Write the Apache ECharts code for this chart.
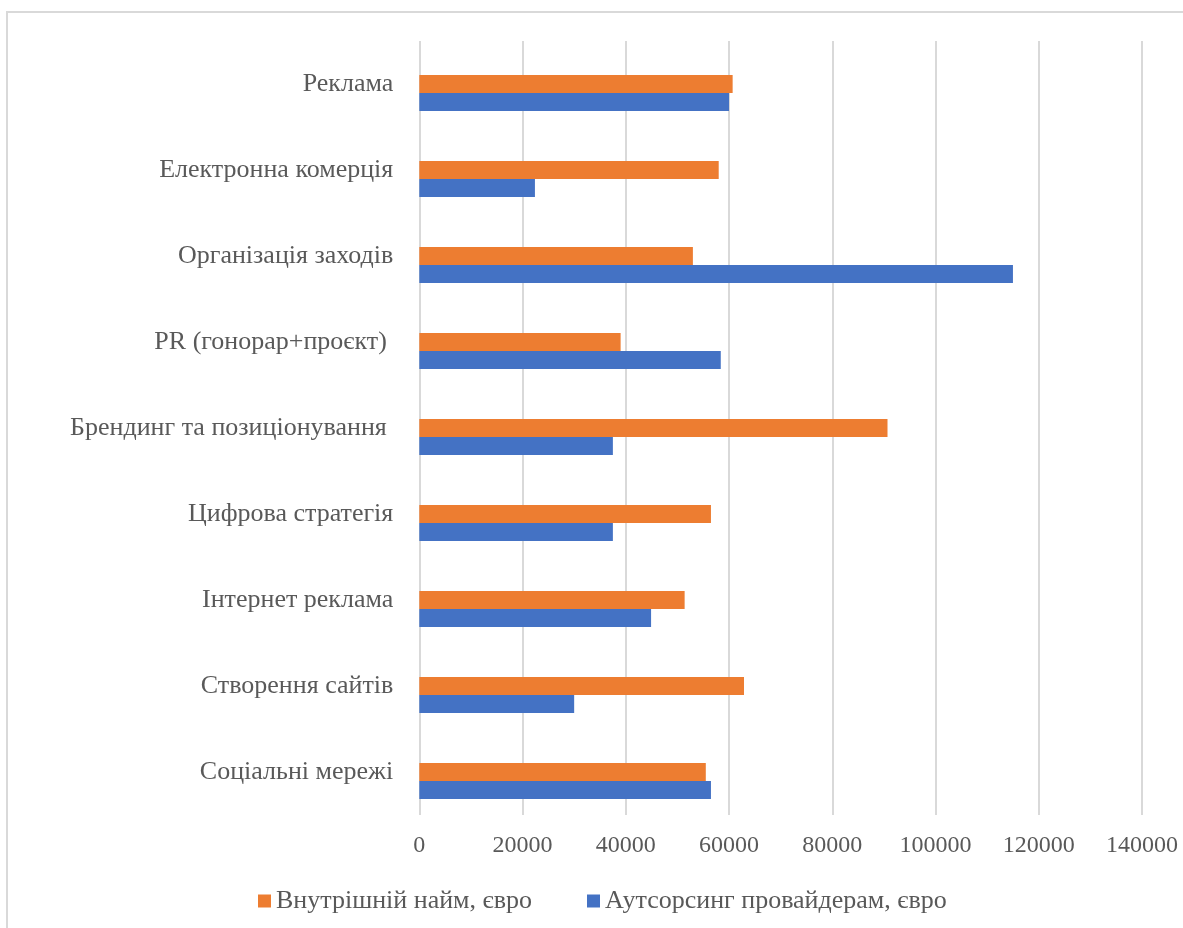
<!DOCTYPE html>
<html>
<head>
<meta charset="utf-8">
<script src="https://cdn.jsdelivr.net/npm/echarts@6/dist/echarts.min.js"></script>
<style>
html,body{margin:0;padding:0;background:#fff;}
#chart{width:1183px;height:928px;}
</style>
</head>
<body>
<div id="chart"></div>
<script>
const categories = [
  'Реклама',
  'Електронна комерція',
  'Організація заходів',
  'PR (гонорар+проєкт) ',
  'Брендинг та позиціонування ',
  'Цифрова стратегія',
  'Інтернет реклама',
  'Створення сайтів',
  'Соціальні мережі'
];
const inHouse = [60700, 58000, 53000, 39000, 90700, 56500, 51400, 62900, 55500];
const outsourcing = [60000, 22400, 115000, 58400, 37500, 37500, 44900, 30000, 56500];
const seriesNames = ['Внутрішній найм, євро', 'Аутсорсинг провайдерам, євро'];
const xTicks = [0, 20000, 40000, 60000, 80000, 100000, 120000, 140000];

const FONT = '"Liberation Serif", "Times New Roman", serif';
const TXT = '#595959';

const chart = echarts.init(document.getElementById('chart'), null, {renderer: 'canvas'});
chart.setOption({
  animation: false,
  backgroundColor: '#fff',
  graphic: [{
    type: 'rect',
    shape: {x: 7, y: 12, width: 1300, height: 1000},
    style: {fill: 'none', stroke: '#d9d9d9', lineWidth: 2},
    silent: true
  }],
  grid: {left: 419.3, right: 41, top: 41, bottom: 113, containLabel: false},
  legend: {
    data: seriesNames,
    left: 253,
    top: 883,
    itemWidth: 13,
    itemHeight: 13,
    itemGap: 55,
    icon: 'rect',
    textStyle: {fontFamily: FONT, fontSize: 26, color: TXT, lineHeight: 26}
  },
  xAxis: {
    type: 'value',
    min: xTicks[0],
    max: xTicks[xTicks.length - 1],
    interval: xTicks[1] - xTicks[0],
    axisLine: {show: false},
    axisTick: {show: false},
    splitLine: {show: true, lineStyle: {color: '#d9d9d9', width: 2}},
    axisLabel: {fontFamily: FONT, fontSize: 24, color: TXT, margin: 19, formatter: v => String(v)}
  },
  yAxis: {
    type: 'category',
    data: categories,
    inverse: true,
    axisLine: {show: false},
    axisTick: {show: false},
    splitLine: {show: false},
    axisLabel: {fontFamily: FONT, fontSize: 26, color: TXT, margin: 26, padding: [4, 0, 0, 0]}
  },
  series: [
    {name: '_pad', type: 'bar', data: [], barWidth: 18, barGap: '0%', silent: true},
    {name: seriesNames[0], type: 'bar', data: inHouse, barWidth: 18, barGap: '0%', itemStyle: {color: '#ED7D31'}},
    {name: seriesNames[1], type: 'bar', data: outsourcing, barWidth: 18, barGap: '0%', itemStyle: {color: '#4472C4'}}
  ]
});
</script>
</body>
</html>
